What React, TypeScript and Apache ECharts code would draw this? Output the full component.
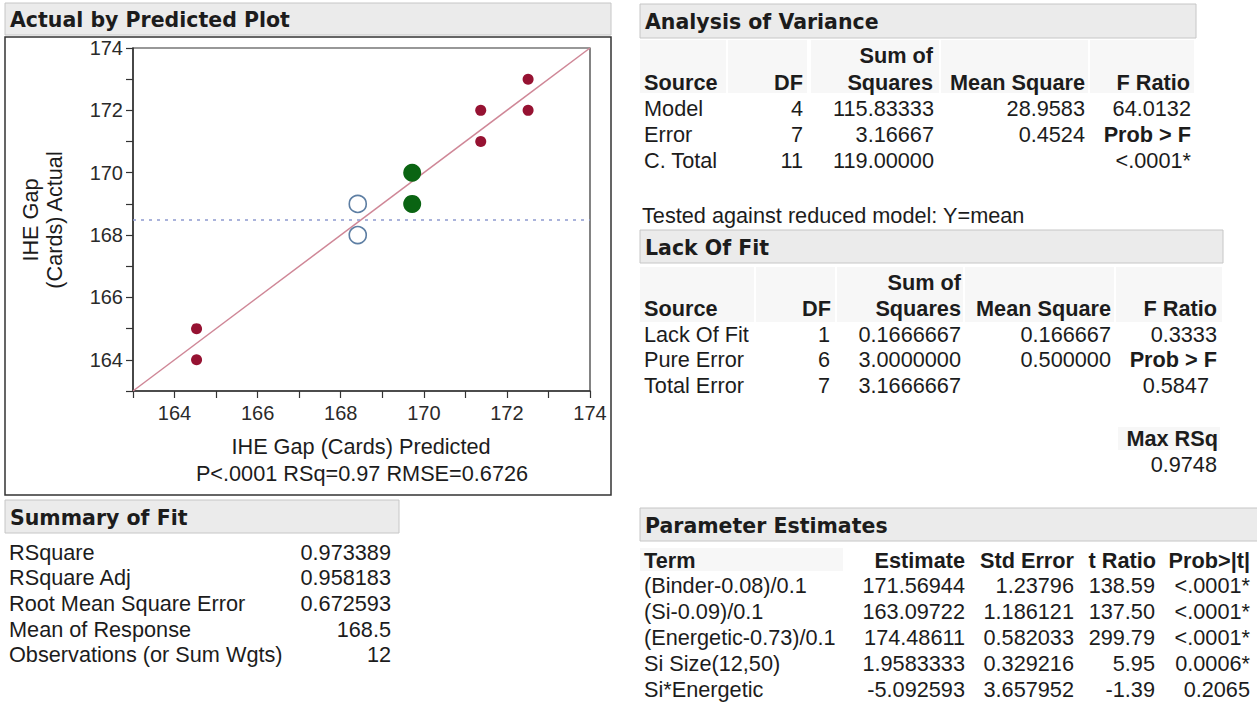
import React, { useEffect, useRef } from "react";
import * as echarts from "echarts";

// ---------- plot data ----------
const xMin = 163;
const xMax = 174;
const yMin = 163;
const yMax = 174;
const redPredicted = [164.53, 164.53, 171.37, 171.37, 172.51, 172.51];
const redActual = [165, 164, 172, 171, 173, 172];
const greenPredicted = [169.72, 169.72];
const greenActual = [170, 169];
const bluePredicted = [168.41, 168.41];
const blueActual = [169, 168];
const meanOfResponse = 168.5;

// ---------- texts ----------
const plotTitle = "Actual by Predicted Plot";
const xAxisTitle = "IHE Gap (Cards) Predicted";
const yAxisTitle = "IHE Gap\n(Cards) Actual";
const plotSubtitle = "P<.0001 RSq=0.97 RMSE=0.6726";

const summaryLabels = ["RSquare", "RSquare Adj", "Root Mean Square Error", "Mean of Response", "Observations (or Sum Wgts)"];
const summaryValues = ["0.973389", "0.958183", "0.672593", "168.5", "12"];

const anovaSource = ["Model", "Error", "C. Total"];
const anovaDF = ["4", "7", "11"];
const anovaSS = ["115.83333", "3.16667", "119.00000"];
const anovaMS = ["28.9583", "0.4524", ""];
const anovaF = ["64.0132", "Prob > F", "<.0001*"];
const anovaNote = "Tested against reduced model: Y=mean";

const lofSource = ["Lack Of Fit", "Pure Error", "Total Error"];
const lofDF = ["1", "6", "7"];
const lofSS = ["0.1666667", "3.0000000", "3.1666667"];
const lofMS = ["0.166667", "0.500000", ""];
const lofF = ["0.3333", "Prob > F", "0.5847"];
const lofMaxRSq = "0.9748";

const paramTerms = ["(Binder-0.08)/0.1", "(Si-0.09)/0.1", "(Energetic-0.73)/0.1", "Si Size(12,50)", "Si*Energetic"];
const paramEstimate = ["171.56944", "163.09722", "174.48611", "1.9583333", "-5.092593"];
const paramStdError = ["1.23796", "1.186121", "0.582033", "0.329216", "3.657952"];
const paramTRatio = ["138.59", "137.50", "299.79", "5.95", "-1.39"];
const paramProb = ["<.0001*", "<.0001*", "<.0001*", "0.0006*", "0.2065"];

const SANS = "'Liberation Sans', Arial, sans-serif";
const TITLE_FONT = "'DejaVu Sans', Tahoma, sans-serif";
const INK = "#1c1c1c";
const FS = 21.7;

function txt(x: number, y: number, text: string, align = "left", bold = false, size = FS, family = SANS): any {
  return {
    type: "text",
    x,
    y,
    silent: true,
    style: {
      text,
      fill: INK,
      fontSize: size,
      fontFamily: family,
      fontWeight: bold ? "bold" : "normal",
      align,
      verticalAlign: "middle",
      textAlign: align,
      textVerticalAlign: "middle",
    },
  };
}

function bar(x: number, y: number, w: number, h: number, title: string): any[] {
  return [
    { type: "rect", shape: { x, y, width: w, height: h }, silent: true, style: { fill: "#ebebeb", stroke: "#c6c6c6", lineWidth: 1 } },
    txt(x + 5, y + h / 2 + 1, title, "left", true, 20.5, TITLE_FONT),
  ];
}

function cell(x: number, y: number, w: number, h: number): any {
  return { type: "rect", shape: { x, y, width: w, height: h }, silent: true, style: { fill: "#f7f7f7" } };
}

function buildGraphics(): any[] {
  const g: any[] = [];
  // Plot block
  g.push(...bar(5, 3, 606, 32, plotTitle));
  g.push({ type: "rect", shape: { x: 5, y: 37, width: 606, height: 458 }, silent: true, style: { fill: "none", stroke: "#333", lineWidth: 1.5 } });
  g.push({
    type: "text",
    x: 42,
    y: 220,
    rotation: Math.PI / 2,
    silent: true,
    style: { text: yAxisTitle, fill: INK, fontSize: FS, fontFamily: SANS, align: "center", verticalAlign: "middle", textAlign: "center", textVerticalAlign: "middle", lineHeight: 24 },
  });
  g.push(txt(361, 446, xAxisTitle, "center"));
  g.push(txt(362, 473, plotSubtitle, "center"));

  // Summary of Fit
  g.push(...bar(5, 500, 394, 33, "Summary of Fit"));
  summaryLabels.forEach((l, i) => {
    const y = 552 + i * 25.7;
    g.push(txt(9, y, l));
    g.push(txt(391, y, summaryValues[i], "right"));
  });

  // Analysis of Variance
  g.push(...bar(640, 4, 556, 34, "Analysis of Variance"));
  [[640, 86], [728, 79], [811, 128], [941, 147], [1090, 104]].forEach(([x, w]) => g.push(cell(x, 40, w, 53)));
  g.push(txt(933, 55, "Sum of", "right", true));
  g.push(txt(644, 82, "Source", "left", true));
  g.push(txt(803, 82, "DF", "right", true));
  g.push(txt(933, 82, "Squares", "right", true));
  g.push(txt(1085, 82, "Mean Square", "right", true));
  g.push(txt(1190, 82, "F Ratio", "right", true));
  anovaSource.forEach((s, i) => {
    const y = 108 + i * 26;
    g.push(txt(644, y, s));
    g.push(txt(803, y, anovaDF[i], "right"));
    g.push(txt(934, y, anovaSS[i], "right"));
    g.push(txt(1085, y, anovaMS[i], "right"));
    g.push(txt(1191, y, anovaF[i], "right", i === 1));
  });
  g.push(txt(642, 215, anovaNote));

  // Lack Of Fit
  g.push(...bar(640, 230, 583, 33, "Lack Of Fit"));
  [[640, 114], [756, 79], [837, 126], [965, 149], [1116, 106]].forEach(([x, w]) => g.push(cell(x, 267, w, 55)));
  g.push(txt(961, 282, "Sum of", "right", true));
  g.push(txt(644, 308, "Source", "left", true));
  g.push(txt(831, 308, "DF", "right", true));
  g.push(txt(961, 308, "Squares", "right", true));
  g.push(txt(1111, 308, "Mean Square", "right", true));
  g.push(txt(1217, 308, "F Ratio", "right", true));
  lofSource.forEach((s, i) => {
    const y = 334 + i * 25.7;
    g.push(txt(644, y, s));
    g.push(txt(830, y, lofDF[i], "right"));
    g.push(txt(961, y, lofSS[i], "right"));
    g.push(txt(1111, y, lofMS[i], "right"));
    g.push(txt(i === 2 ? 1209 : 1217, y, lofF[i], "right", i === 1));
  });
  g.push(cell(1118, 427, 102, 23));
  g.push(txt(1218, 438, "Max RSq", "right", true));
  g.push(txt(1217, 464, lofMaxRSq, "right"));

  // Parameter Estimates
  g.push(...bar(640, 508, 620, 33, "Parameter Estimates"));
  g.push(cell(640, 548, 203, 23));
  g.push(txt(644, 560, "Term", "left", true));
  g.push(txt(965, 560, "Estimate", "right", true));
  g.push(txt(1074, 560, "Std Error", "right", true));
  g.push(txt(1156, 560, "t Ratio", "right", true));
  g.push(txt(1250, 560, "Prob>|t|", "right", true));
  paramTerms.forEach((t, i) => {
    const y = 585 + i * 26.2;
    g.push(txt(644, y, t));
    g.push(txt(965, y, paramEstimate[i], "right"));
    g.push(txt(1074, y, paramStdError[i], "right"));
    g.push(txt(1155, y, paramTRatio[i], "right"));
    g.push(txt(1250, y, paramProb[i], "right"));
  });
  return g;
}

export default function App() {
  const ref = useRef<HTMLDivElement>(null);
  useEffect(() => {
    if (!ref.current) return;
    const chart = echarts.init(ref.current, undefined, { renderer: "svg" });
    const axisCommon = {
      type: "value",
      interval: 1,
      axisLine: { show: true, onZero: false, lineStyle: { color: "#333", width: 1.5 } },
      axisTick: { show: true, inside: false, length: 7, interval: 0, lineStyle: { color: "#333", width: 1.2 } },
      splitLine: { show: false },
      axisLabel: {
        color: "#2a2a2a",
        fontSize: 20,
        fontFamily: SANS,
        showMinLabel: true,
        showMaxLabel: true,
        formatter: (v: number) => (Math.round(v) % 2 === 0 ? String(v) : ""),
      },
    };
    chart.setOption({
      animation: false,
      backgroundColor: "#ffffff",
      grid: { left: 133, top: 48, width: 457, height: 343, show: true, borderColor: "#333", borderWidth: 1.2, backgroundColor: "transparent" },
      xAxis: { ...axisCommon, min: xMin, max: xMax, axisLabel: { ...axisCommon.axisLabel, margin: 12 } },
      yAxis: { ...axisCommon, min: yMin, max: yMax, axisLabel: { ...axisCommon.axisLabel, margin: 10 } },
      series: [
        {
          type: "line",
          data: [[xMin, yMin], [xMax, yMax]],
          symbol: "none",
          silent: true,
          lineStyle: { color: "#cf8797", width: 1.5 },
          z: 1,
          markLine: {
            silent: true,
            symbol: ["none", "none"],
            label: { show: false },
            lineStyle: { color: "#8f9bd0", width: 1.5, type: [3, 5] },
            data: [{ yAxis: meanOfResponse }],
          },
        },
        {
          type: "scatter",
          data: bluePredicted.map((x, i) => [x, blueActual[i]]),
          symbolSize: 17,
          itemStyle: { color: "rgba(255,255,255,0)", borderColor: "#5d7ea3", borderWidth: 1.6, opacity: 1 },
          z: 3,
        },
        {
          type: "scatter",
          data: greenPredicted.map((x, i) => [x, greenActual[i]]),
          symbolSize: 18,
          itemStyle: { color: "#0a6412", opacity: 1 },
          z: 3,
        },
        {
          type: "scatter",
          data: redPredicted.map((x, i) => [x, redActual[i]]),
          symbolSize: 11,
          itemStyle: { color: "#961232", opacity: 1 },
          z: 3,
        },
      ],
      graphic: buildGraphics(),
    });
    return () => chart.dispose();
  }, []);
  return (
    <div
      ref={ref}
      style={{ position: "absolute", left: 0, top: 0, width: 1257, height: 704, background: "#fff" }}
    />
  );
}
